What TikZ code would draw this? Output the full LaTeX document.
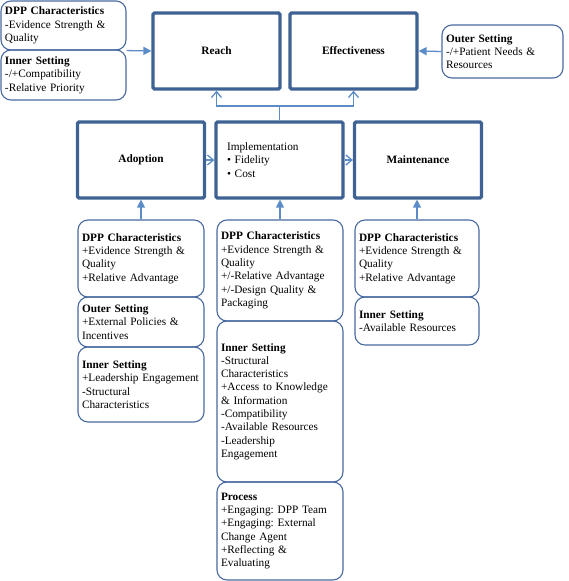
\documentclass[tikz,border=0pt]{standalone}
\usepackage{fontspec}
\setmainfont{Liberation Serif}
\newfontfamily\tnr{Liberation Serif}
\frenchspacing
\usetikzlibrary{arrows.meta}
\definecolor{mainblue}{RGB}{62,98,148}
\definecolor{boxblue}{RGB}{72,106,160}
\definecolor{arrblue}{RGB}{92,140,200}
\tikzset{
  mainbox/.style={draw=mainblue, line width=3.2pt, rounded corners=1.5pt, minimum width=127pt, minimum height=76pt, inner sep=0pt, font=\tnr\fontsize{11.3}{13.3}\selectfont\bfseries, fill=white},
  cbox/.style={draw=boxblue, line width=1.1pt, rounded corners=10pt, text width=#1, inner xsep=4pt, inner ysep=0pt, align=left, font=\tnr\fontsize{11.3}{13.3}\selectfont\frenchspacing},
  cbox/.default=118pt,
  fillarr/.style={draw=arrblue, line width=1.3pt, -{Triangle[length=8pt,width=8pt]}},
  openarr/.style={draw=arrblue, line width=1.3pt, -{Straight Barb[length=6pt,width=10pt,line width=1.3pt]}},
  plain/.style={draw=arrblue, line width=1.3pt},
}
\begin{document}
\begin{tikzpicture}[x=1pt,y=-1pt]
\useasboundingbox (0,0) rectangle (568,581);
% main boxes
\node[mainbox] (reach) at (216.5,51) {Reach};
\node[mainbox] (eff) at (353.5,51) {Effectiveness};
\node[mainbox] (adopt) at (141,160) {Adoption};
\node[mainbox, font=\tnr\fontsize{11.3}{13.3}\selectfont, text width=105pt, inner xsep=11pt, align=left] (impl) at (279.5,160) {Implementation\\\textbullet\ Fidelity\\\textbullet\ Cost};
\node[mainbox] (maint) at (418,160) {Maintenance};
% top boxes
\node[cbox=117pt, minimum height=49pt] (tldpp) at (63.5,25.5) {\textbf{DPP Characteristics}\\-Evidence Strength \&\\Quality};
\node[cbox=117pt, minimum height=50pt] (tlin) at (63.5,75) {\textbf{Inner Setting}\\-/+Compatibility\\-Relative Priority};
\node[cbox=113pt, minimum height=53pt] (trout) at (502.5,51.5) {\textbf{Outer Setting}\\-/+Patient Needs \&\\Resources};
% adoption column
\node[cbox, minimum height=77pt] (adpp) at (141,258.5) {\textbf{DPP Characteristics}\\+Evidence Strength \&\\Quality\\+Relative Advantage};
\node[cbox, minimum height=50pt] (aout) at (141,322) {\textbf{Outer Setting}\\+External Policies \&\\Incentives};
\node[cbox, minimum height=75pt] (ain) at (141,384.5) {\textbf{Inner Setting}\\+Leadership Engagement\\-Structural\\Characteristics};
% implementation column
\node[cbox, minimum height=101pt] (idpp) at (280,270.5) {\textbf{DPP Characteristics}\\+Evidence Strength \&\\Quality\\+/-Relative Advantage\\+/-Design Quality \&\\Packaging};
\node[cbox, minimum height=161pt] (iin) at (280,401.5) {\textbf{Inner Setting}\\-Structural\\Characteristics\\+Access to Knowledge\\\& Information\\-Compatibility\\-Available Resources\\-Leadership\\Engagement};
\node[cbox, minimum height=98pt] (iproc) at (280,531) {\textbf{Process}\\+Engaging: DPP Team\\+Engaging: External\\Change Agent\\+Reflecting \&\\Evaluating};
% maintenance column
\node[cbox=116pt, minimum height=77pt] (mdpp) at (417,258.5) {\textbf{DPP Characteristics}\\+Evidence Strength \&\\Quality\\+Relative Advantage};
\node[cbox=116pt, minimum height=48pt] (min) at (417,321) {\textbf{Inner Setting}\\-Available Resources};
% connectors
\draw[fillarr] (tldpp.south east) -- (reach.west);
\draw[fillarr] (trout.west) -- (eff.east);
\coordinate (j) at (279.5,106);
\draw[plain] (impl.north) -- (j);
\draw[openarr] (j) -| (reach.south);
\draw[openarr] (j) -| (eff.south);
\draw[openarr] (adopt.east) -- (impl.west);
\draw[openarr] (impl.east) -- (maint.west);
\draw[fillarr] (adpp.north) -- (adpp.north |- adopt.south);
\draw[fillarr] (idpp.north) -- (idpp.north |- impl.south);
\draw[fillarr] (mdpp.north) -- (mdpp.north |- maint.south);
\end{tikzpicture}
\end{document}
